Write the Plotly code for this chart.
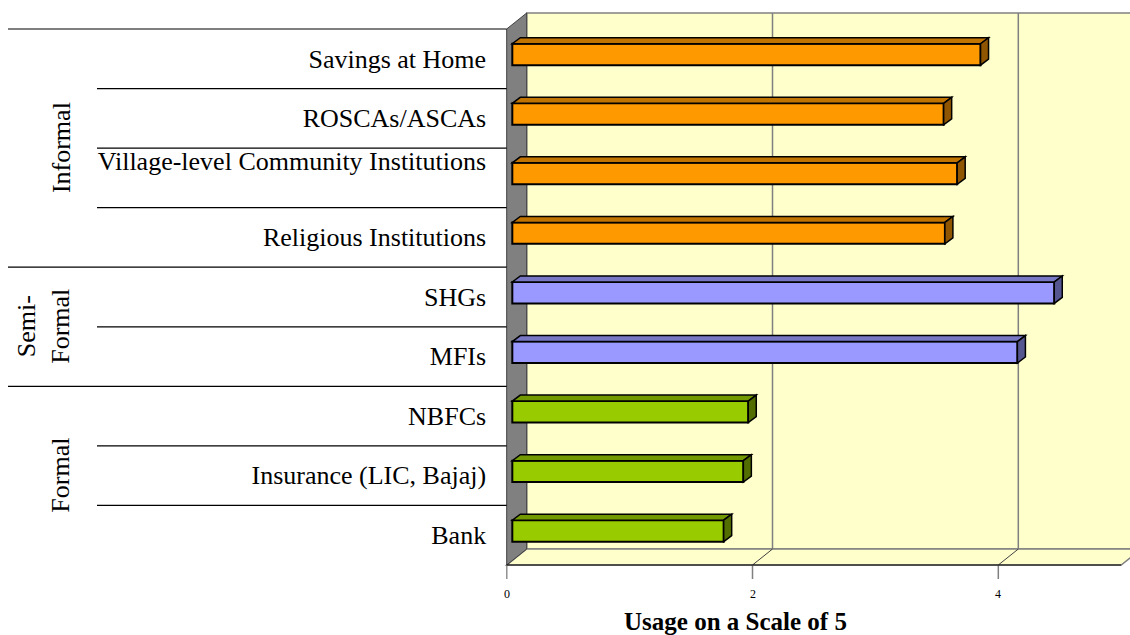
import plotly.graph_objects as go

# data (top to bottom)
categories = ["Savings at Home", "ROSCAs/ASCAs", "Village-level Community Institutions",
              "Religious Institutions", "SHGs", "MFIs", "NBFCs", "Insurance (LIC, Bajaj)", "Bank"]
usage = [3.81, 3.51, 3.62, 3.52, 4.41, 4.11, 1.92, 1.88, 1.72]
group_of = ["Informal"] * 4 + ["Semi-Formal"] * 2 + ["Formal"] * 3
groups = ["Informal", "Semi-Formal", "Formal"]
group_text = ["Informal", "Semi-<br>Formal", "Formal"]
tick_vals = [0, 2, 4]
axis_title = "Usage on a Scale of 5"

# styles
W, H = 1130, 635
FONT = "Liberation Serif"
face = {"Informal": "#FF9900", "Semi-Formal": "#9999FF", "Formal": "#99CC00"}
top = {"Informal": "#C27400", "Semi-Formal": "#7777C4", "Formal": "#739900"}
side = {"Informal": "#8F5500", "Semi-Formal": "#555590", "Formal": "#526E00"}


def px(x):
    return x / W


def py(y):
    return 1 - y / H


# bar plane geometry (pixels)
X0 = 512.3          # value 0 on the bar plane
UNIT = 122.9        # pixels per unit
XMAX = 5.0
XMIN = -0.05
Y_TOP, Y_BOT = 24.7, 560.7
ROW = (Y_BOT - Y_TOP) / len(categories)
BAR_W = 0.36
HH = BAR_W * ROW / 2
DEPTH_X, DEPTH_Y = 8, 6            # depth of each bar
FRONT_DX, FRONT_DY = -5.6, -4.3    # bar plane -> front plane
BACK_DX, BACK_DY = 14.4, 11.7      # bar plane -> back wall

fig = go.Figure()
fig.add_trace(go.Bar(
    x=usage, y=categories, orientation="h", width=BAR_W,
    marker=dict(color=[face[g] for g in group_of], line=dict(color="black", width=2)),
    hoverinfo="skip", showlegend=False,
))

shapes = []
# back wall, floor, side wall
fx0 = X0 + FRONT_DX
bx0 = X0 + BACK_DX
fy = Y_BOT - FRONT_DY
by = Y_BOT - BACK_DY
ty_front = Y_TOP - FRONT_DY
ty_back = Y_TOP - BACK_DY
xend_front = fx0 + XMAX * UNIT
shapes.append(dict(type="rect", xref="paper", yref="paper", x0=px(bx0), x1=px(W + 20),
                   y0=py(by), y1=py(ty_back), fillcolor="#FFFFCC",
                   line=dict(color="#808080", width=1.5), layer="below"))
shapes.append(dict(type="path", xref="paper", yref="paper", layer="below",
                   path=f"M{px(fx0)},{py(fy)} L{px(bx0)},{py(by)} L{px(xend_front + 20)},{py(by)} "
                        f"L{px(xend_front)},{py(fy)} Z",
                   fillcolor="#FFFFCC", line=dict(color="#808080", width=1.5)))
shapes.append(dict(type="path", xref="paper", yref="paper", layer="below",
                   path=f"M{px(fx0)},{py(ty_front)} L{px(bx0)},{py(ty_back)} L{px(bx0)},{py(by)} "
                        f"L{px(fx0)},{py(fy)} Z",
                   fillcolor="#808080", line=dict(color="#404040", width=1)))
# back wall gridlines and floor diagonals
for v in tick_vals[1:]:
    shapes.append(dict(type="line", xref="x", xsizemode="pixel", xanchor=v, x0=BACK_DX, x1=BACK_DX,
                       yref="paper", y0=py(by), y1=py(ty_back), layer="below",
                       line=dict(color="#7F7F7F", width=1.5)))
    shapes.append(dict(type="line", xref="x", xsizemode="pixel", xanchor=v, x0=FRONT_DX, x1=BACK_DX,
                       yref="paper", y0=py(fy), y1=py(by), layer="below",
                       line=dict(color="#404040", width=1)))
# front tick marks
for v in tick_vals:
    shapes.append(dict(type="line", xref="x", xsizemode="pixel", xanchor=v, x0=FRONT_DX, x1=FRONT_DX,
                       yref="paper", y0=py(fy), y1=py(fy + 14),
                       line=dict(color="#808080", width=1.5)))

# row separators on the left
bounds = [i - 0.5 for i in range(len(categories) + 1)]
group_edges = [-0.5] + [i + 0.5 for i in range(len(categories) - 1) if group_of[i] != group_of[i + 1]] + [len(categories) - 0.5]
for b in bounds:
    x_start = 8 if b in group_edges else 97
    shapes.append(dict(type="line", xref="paper", x0=px(x_start), x1=px(fx0),
                       yref="y", ysizemode="pixel", yanchor=b, y0=FRONT_DY, y1=FRONT_DY,
                       line=dict(color="black", width=1.2)))
# floor front edge
shapes.append(dict(type="line", xref="paper", yref="paper", x0=px(fx0), x1=px(xend_front),
                   y0=py(fy), y1=py(fy), line=dict(color="black", width=1.2)))

# 3D faces of each bar
for i, (c, v, g) in enumerate(zip(categories, usage, group_of)):
    d = DEPTH_X / UNIT
    shapes.append(dict(type="path", xref="x", yref="y", ysizemode="pixel", yanchor=i,
                       path=f"M0,{HH} L{v},{HH} L{v + d},{HH + DEPTH_Y} L{d},{HH + DEPTH_Y} Z",
                       fillcolor=top[g], line=dict(color="black", width=1.5)))
    shapes.append(dict(type="path", xref="x", xsizemode="pixel", xanchor=v,
                       yref="y", ysizemode="pixel", yanchor=i,
                       path=f"M0,{-HH} L0,{HH} L{DEPTH_X},{HH + DEPTH_Y} L{DEPTH_X},{-HH + DEPTH_Y} Z",
                       fillcolor=side[g], line=dict(color="black", width=1.5)))

annotations = []
# group labels
for g, t in zip(groups, group_text):
    idx = [i for i, gg in enumerate(group_of) if gg == g]
    mid = (idx[0] + idx[-1]) / 2
    annotations.append(dict(text=t, textangle=-90, xref="paper", x=px(61 if "<br>" not in t else 44),
                            yref="y", y=mid, yshift=FRONT_DY, showarrow=False,
                            xanchor="center", yanchor="middle",
                            font=dict(family=FONT, size=26, color="black")))
# value axis labels on the front plane
for v in tick_vals:
    annotations.append(dict(text=str(v), xref="x", x=v, xshift=FRONT_DX, yref="paper", y=py(594),
                            showarrow=False, xanchor="center", yanchor="middle",
                            font=dict(family=FONT, size=12, color="black")))
annotations.append(dict(text=f"<b>{axis_title}</b>", xref="paper", yref="paper",
                        x=px(735.5), y=py(621), showarrow=False, xanchor="center", yanchor="middle",
                        font=dict(family=FONT, size=25, color="black")))

tick_text = [c + "<br> " if c.startswith("Village") else c for c in categories]

fig.update_layout(
    width=W, height=H,
    margin=dict(l=0, r=0, t=0, b=0),
    paper_bgcolor="white", plot_bgcolor="rgba(0,0,0,0)",
    showlegend=False, hovermode=False,
    shapes=shapes, annotations=annotations,
    xaxis=dict(domain=[px(X0 + XMIN * UNIT), px(X0 + XMAX * UNIT)], range=[XMIN, XMAX],
               showgrid=False, zeroline=False, showline=False, ticks="",
               showticklabels=False, fixedrange=True),
    yaxis=dict(domain=[py(Y_BOT), py(Y_TOP)], range=[len(categories) - 0.5, -0.5],
               type="category", categoryorder="array", categoryarray=categories,
               showgrid=False, zeroline=False, showline=False, ticks="",
               tickmode="array", tickvals=categories, ticktext=tick_text,
               ticklabelshift=-4, ticklabelstandoff=19,
               tickfont=dict(family=FONT, size=26, color="black"), fixedrange=True),
)

# drop the browser's default body margin so the figure sits at the page origin
fig.write_html("out.html", config={"displayModeBar": False},
               post_script="document.body.style.margin = '0';")
